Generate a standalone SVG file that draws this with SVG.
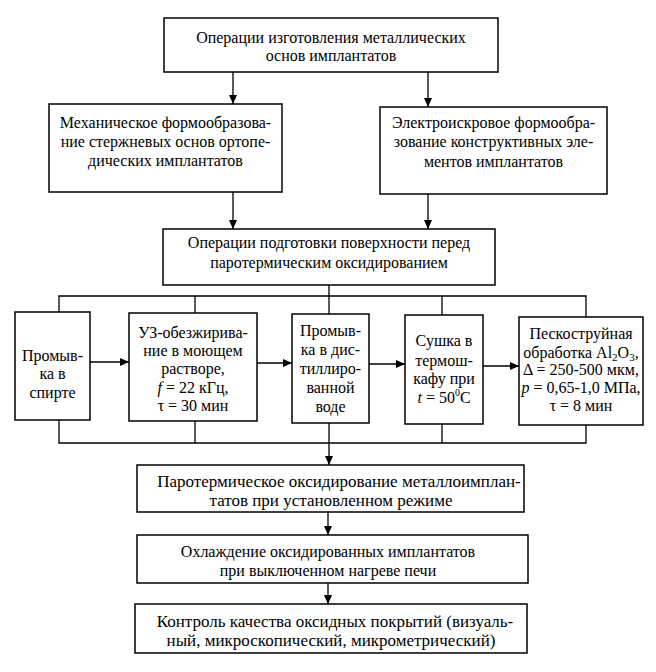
<svg xmlns="http://www.w3.org/2000/svg" width="656" height="672" viewBox="0 0 656 672">
<style>
.box{fill:#fff;stroke:#000;stroke-width:1.5}
.ln{fill:none;stroke:#000;stroke-width:1.3}
.t{font-family:"Liberation Serif","Times New Roman",serif;font-size:16px;fill:#000;text-anchor:middle}
.w{font-size:17px}
.i{font-style:italic}
</style>
<defs>
<marker id="ah" markerUnits="userSpaceOnUse" markerWidth="9" markerHeight="8" refX="9" refY="4" orient="auto">
<path d="M0,0 L9,4 L0,8 z" fill="#000"/>
</marker>
</defs>
<rect width="656" height="672" fill="#fff"/>
<g id="connectors">
<line class="ln" x1="233" y1="72" x2="233" y2="104" marker-end="url(#ah)"/>
<line class="ln" x1="428" y1="72" x2="428" y2="107" marker-end="url(#ah)"/>
<line class="ln" x1="233" y1="192" x2="233" y2="229" marker-end="url(#ah)"/>
<line class="ln" x1="428" y1="194" x2="428" y2="229" marker-end="url(#ah)"/>
<polyline class="ln" points="59,312 59,296 586,296 586,317"/>
<line class="ln" x1="195" y1="296" x2="195" y2="313"/>
<line class="ln" x1="442" y1="296" x2="442" y2="315"/>
<line class="ln" x1="329" y1="285" x2="329" y2="314"/>
<line class="ln" x1="90" y1="362" x2="129" y2="362" marker-end="url(#ah)"/>
<line class="ln" x1="257" y1="363" x2="292" y2="363" marker-end="url(#ah)"/>
<line class="ln" x1="369" y1="364" x2="405" y2="364" marker-end="url(#ah)"/>
<line class="ln" x1="483" y1="366" x2="519" y2="366" marker-end="url(#ah)"/>
<polyline class="ln" points="59,420 59,443 586,443 586,425"/>
<line class="ln" x1="195" y1="421" x2="195" y2="443"/>
<line class="ln" x1="442" y1="424" x2="442" y2="443"/>
<line class="ln" x1="329" y1="423" x2="329" y2="465" marker-end="url(#ah)"/>
<line class="ln" x1="328" y1="512" x2="328" y2="535" marker-end="url(#ah)"/>
<line class="ln" x1="328" y1="583" x2="328" y2="604" marker-end="url(#ah)"/>
</g>
<g id="n1">
<rect class="box" x="164" y="18" width="334" height="54"/>
<text class="t" x="331" y="43">Операции изготовления металлических</text>
<text class="t" x="331" y="61">основ имплантатов</text>
</g>
<g id="n2">
<rect class="box" x="49" y="104" width="233" height="88"/>
<text class="t" x="165.5" y="128">Механическое формообразова-</text>
<text class="t" x="165.5" y="147">ние стержневых основ ортопе-</text>
<text class="t" x="165.5" y="166">дических имплантатов</text>
</g>
<g id="n3">
<rect class="box" x="380" y="107" width="227" height="87"/>
<text class="t" x="493.5" y="128">Электроискровое формообра-</text>
<text class="t" x="493.5" y="147">зование конструктивных эле-</text>
<text class="t" x="493.5" y="167">ментов имплантатов</text>
</g>
<g id="n4">
<rect class="box" x="163" y="229" width="332" height="56"/>
<text class="t" x="329" y="248">Операции подготовки поверхности перед</text>
<text class="t" x="329" y="268">паротермическим оксидированием</text>
</g>
<g id="nA">
<rect class="box" x="15" y="312" width="75" height="108"/>
<text class="t" x="52.5" y="361">Промыв-</text>
<text class="t" x="52.5" y="379">ка в</text>
<text class="t" x="52.5" y="398">спирте</text>
</g>
<g id="nB">
<rect class="box" x="129" y="313" width="128" height="108"/>
<text class="t" x="193" y="338">УЗ-обезжирива-</text>
<text class="t" x="193" y="356">ние в моющем</text>
<text class="t" x="193" y="374">растворе,</text>
<text class="t" x="193" y="393"><tspan class="i">f</tspan> = 22 кГц,</text>
<text class="t" x="193" y="411">τ = 30 мин</text>
</g>
<g id="nC">
<rect class="box" x="292" y="314" width="77" height="109"/>
<text class="t" x="330.5" y="336">Промыв-</text>
<text class="t" x="330.5" y="355">ка в дис-</text>
<text class="t" x="330.5" y="374">тиллиро-</text>
<text class="t" x="330.5" y="393">ванной</text>
<text class="t" x="330.5" y="412">воде</text>
</g>
<g id="nD">
<rect class="box" x="405" y="315" width="78" height="109"/>
<text class="t" x="444" y="346">Сушка в</text>
<text class="t" x="444" y="366">термош-</text>
<text class="t" x="444" y="384">кафу при</text>
<text class="t" x="444" y="403"><tspan class="i">t</tspan> = 50<tspan font-size="10" dy="-7">0</tspan><tspan dy="7">C</tspan></text>
</g>
<g id="nE">
<rect class="box" x="519" y="317" width="124" height="108"/>
<text class="t" x="581" y="339">Пескоструйная</text>
<text class="t" x="581" y="358">обработка Al<tspan font-size="11" dy="3">2</tspan><tspan dy="-3">O</tspan><tspan font-size="11" dy="3">3</tspan><tspan dy="-3">,</tspan></text>
<text class="t" x="581" y="375">Δ = 250-500 мкм,</text>
<text class="t" x="581" y="393"><tspan class="i">p</tspan> = 0,65-1,0 МПа,</text>
<text class="t" x="581" y="411">τ = 8 мин</text>
</g>
<g id="nF">
<rect class="box" x="137" y="465" width="387" height="47"/>
<text class="t w" x="339" y="487">Паротермическое оксидирование металлоимплан-</text>
<text class="t w" x="331" y="506">татов при установленном режиме</text>
</g>
<g id="nG">
<rect class="box" x="137" y="535" width="391" height="48"/>
<text class="t" x="328" y="557">Охлаждение оксидированных имплантатов</text>
<text class="t" x="328" y="576">при выключенном нагреве печи</text>
</g>
<g id="nH">
<rect class="box" x="135" y="604" width="392" height="49"/>
<text class="t w" x="335" y="627">Контроль качества оксидных покрытий (визуаль-</text>
<text class="t w" x="331" y="646">ный, микроскопический, микрометрический)</text>
</g>
</svg>
